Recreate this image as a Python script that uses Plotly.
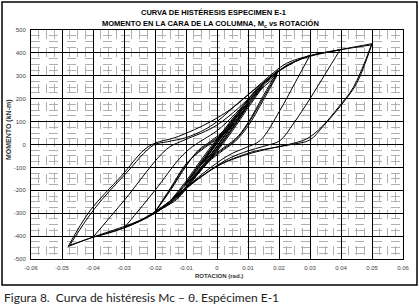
import plotly.graph_objects as go

# ---------------- data ----------------
X_TICKS = [-0.06, -0.05, -0.04, -0.03, -0.02, -0.01, 0, 0.01, 0.02, 0.03, 0.04, 0.05, 0.06]
X_TICK_TEXT = ["-0.06", "-0.05", "-0.04", "-0.03", "-0.02", "-0.01", "0", "0.01", "0.02", "0.03", "0.04", "0.05", "0.06"]
Y_TICKS = [-500, -400, -300, -200, -100, 0, 100, 200, 300, 400, 500]
Y_TICK_TEXT = ["-500", "-400", "-300", "-200", "-100", "0", "100", "200", "300", "400", "500"]

# +/-0.005 rad cycles
C005A_UP_X = [-0.005, -0.0025, 0.0, 0.0025, 0.005]
C005A_UP_Y = [-85, -55, -10, 40, 90]
C005A_DN_X = [0.005, 0.0025, 0.0, -0.0025, -0.005]
C005A_DN_Y = [90, 55, 10, -40, -85]
C005B_UP_X = [-0.005, -0.0025, 0.0, 0.0025, 0.005]
C005B_UP_Y = [-80, -50, -5, 42, 85]
C005B_DN_X = [0.005, 0.0025, 0.0, -0.0025, -0.005]
C005B_DN_Y = [85, 52, 5, -42, -80]

# +/-0.01 rad cycles
C010A_UP_X = [-0.010, -0.006, -0.002, 0.002, 0.006, 0.010]
C010A_UP_Y = [-170, -120, -55, 20, 95, 175]
C010A_DN_X = [0.010, 0.006, 0.002, -0.002, -0.006, -0.010]
C010A_DN_Y = [175, 120, 50, -25, -100, -170]
C010B_UP_X = [-0.010, -0.006, -0.002, 0.002, 0.006, 0.010]
C010B_UP_Y = [-165, -112, -45, 28, 100, 170]
C010B_DN_X = [0.010, 0.006, 0.002, -0.002, -0.006, -0.010]
C010B_DN_Y = [170, 112, 40, -30, -105, -165]
C010C_UP_X = [-0.0105, -0.006, -0.002, 0.002, 0.006, 0.0105]
C010C_UP_Y = [-178, -125, -60, 12, 88, 182]
C010C_DN_X = [0.0105, 0.006, 0.002, -0.002, -0.006, -0.0105]
C010C_DN_Y = [182, 128, 58, -18, -92, -178]

# +/-0.015 rad cycles
C015A_UP_X = [-0.015, -0.010, -0.005, 0.0, 0.005, 0.010, 0.015]
C015A_UP_Y = [-245, -185, -110, -30, 60, 160, 255]
C015A_DN_X = [0.015, 0.010, 0.005, 0.0, -0.005, -0.010, -0.015]
C015A_DN_Y = [255, 190, 110, 25, -65, -160, -245]
C015B_UP_X = [-0.0145, -0.010, -0.005, 0.0, 0.005, 0.010, 0.0145]
C015B_UP_Y = [-238, -175, -100, -20, 70, 168, 250]
C015B_DN_X = [0.0145, 0.010, 0.005, 0.0, -0.005, -0.010, -0.0145]
C015B_DN_Y = [250, 182, 100, 15, -75, -168, -238]

# +/-0.02 rad cycles
C020A_UP_X = [-0.0205, -0.015, -0.010, -0.006, -0.002, 0.003, 0.008, 0.013, 0.0198]
C020A_UP_Y = [-305, -200, -95, -25, 15, 70, 160, 245, 325]
C020B_UP_X = [-0.0203, -0.015, -0.010, -0.006, -0.002, 0.003, 0.008, 0.013, 0.0195]
C020B_UP_Y = [-300, -195, -90, -30, 10, 60, 150, 235, 310]
C020C_UP_X = [-0.0200, -0.015, -0.010, -0.006, -0.002, 0.003, 0.008, 0.013, 0.0193]
C020C_UP_Y = [-295, -190, -85, -35, 5, 55, 140, 225, 300]
C020A_DN_X = [0.0198, 0.015, 0.010, 0.006, 0.002, -0.003, -0.008, -0.013, -0.0205]
C020A_DN_Y = [325, 215, 95, 25, -15, -70, -150, -230, -305]
C020B_DN_X = [0.0195, 0.015, 0.010, 0.006, 0.002, -0.003, -0.008, -0.013, -0.0203]
C020B_DN_Y = [310, 205, 90, 20, -20, -75, -155, -235, -300]
C020C_DN_X = [0.0193, 0.015, 0.010, 0.006, 0.002, -0.003, -0.008, -0.013, -0.0200]
C020C_DN_Y = [300, 195, 80, 15, -25, -80, -160, -240, -295]

# +/-0.03 rad cycle
C030_UP_X = [-0.0297, -0.020, -0.012, -0.008, -0.004, 0.0, 0.006, 0.012, 0.017, 0.022, 0.030]
C030_UP_Y = [-360, -200, -60, -10, 25, 60, 135, 225, 290, 340, 390]
C030_DN_X = [0.030, 0.025, 0.0203, 0.0139, 0.009, 0.004, -0.002, -0.008, -0.014, -0.020, -0.025, -0.0297]
C030_DN_Y = [390, 265, 149, 17, -15, -45, -100, -165, -235, -298, -335, -360]

# +/-0.04 rad cycle
C040_UP_X = [-0.040, -0.030, -0.0162, -0.011, -0.005, 0.0, 0.007, 0.013, 0.018, 0.023, 0.030, 0.0397]
C040_UP_Y = [-405, -245, -20, 17, 50, 85, 160, 240, 300, 350, 385, 413]
C040_DN_X = [0.0397, 0.035, 0.030, 0.0246, 0.0203, 0.015, 0.010, 0.004, -0.002, -0.008, -0.014, -0.020, -0.030, -0.040]
C040_DN_Y = [413, 310, 200, 90, 17, -8, -28, -60, -110, -170, -240, -300, -365, -405]

# +/-0.05 rad cycles
C050A_UP_X = [-0.048, -0.041, -0.031, -0.022, -0.0125, -0.0023, 0.005, 0.0117, 0.017, 0.0225, 0.030, 0.040, 0.050]
C050A_UP_Y = [-445, -290, -140, -8, 35, 98, 160, 237, 300, 355, 388, 415, 440]
C050A_DN_X = [0.050, 0.045, 0.040, 0.034, 0.030, 0.024, 0.019, 0.012, 0.0085, 0.002, -0.004, -0.0098, -0.015, -0.0205, -0.025, -0.0297, -0.035, -0.040, -0.048]
C050A_DN_Y = [440, 266, 171, 76, 20, 0, -12, -30, -45, -80, -130, -185, -245, -300, -335, -362, -385, -405, -445]
C050B_UP_X = [-0.0475, -0.0395, -0.0295, -0.0205, -0.016, -0.010, -0.004, 0.0, 0.008, 0.015, 0.020, 0.025, 0.030, 0.040, 0.0498]
C050B_UP_Y = [-440, -280, -128, -3, 12, 30, 65, 100, 195, 270, 320, 360, 388, 414, 435]
C050B_DN_X = [0.0498, 0.044, 0.039, 0.034, 0.029, 0.023, 0.018, 0.011, 0.005, 0.0, -0.006, -0.012, -0.018, -0.024, -0.030, -0.038, -0.0475]
C050B_DN_Y = [435, 250, 160, 80, 25, 0, -15, -38, -65, -95, -150, -215, -275, -325, -358, -395, -440]

BRANCHES = [
    (C005A_UP_X, C005A_UP_Y), (C005A_DN_X, C005A_DN_Y),
    (C005B_UP_X, C005B_UP_Y), (C005B_DN_X, C005B_DN_Y),
    (C010A_UP_X, C010A_UP_Y), (C010A_DN_X, C010A_DN_Y),
    (C010B_UP_X, C010B_UP_Y), (C010B_DN_X, C010B_DN_Y),
    (C010C_UP_X, C010C_UP_Y), (C010C_DN_X, C010C_DN_Y),
    (C015A_UP_X, C015A_UP_Y), (C015A_DN_X, C015A_DN_Y),
    (C015B_UP_X, C015B_UP_Y), (C015B_DN_X, C015B_DN_Y),
    (C020A_UP_X, C020A_UP_Y), (C020A_DN_X, C020A_DN_Y),
    (C020B_UP_X, C020B_UP_Y), (C020B_DN_X, C020B_DN_Y),
    (C020C_UP_X, C020C_UP_Y), (C020C_DN_X, C020C_DN_Y),
    (C030_UP_X, C030_UP_Y), (C030_DN_X, C030_DN_Y),
    (C040_UP_X, C040_UP_Y), (C040_DN_X, C040_DN_Y),
    (C050A_UP_X, C050A_UP_Y), (C050A_DN_X, C050A_DN_Y),
    (C050B_UP_X, C050B_UP_Y), (C050B_DN_X, C050B_DN_Y),
]

# ---------------- figure ----------------
W, H = 419, 307
L, R, T, B = 31, 16, 30, 48
PW, PH = W - L - R, H - T - B


def px_x(px):
    return (px - L) / PW


def px_y(py):
    return (H - B - py) / PH


fig = go.Figure()
for bx, by in BRANCHES:
    fig.add_trace(go.Scatter(
        x=bx, y=by, mode="lines",
        line=dict(color="black", width=1, shape="spline", smoothing=1.0),
        hoverinfo="skip", showlegend=False,
    ))

tick_font = dict(family="Liberation Sans, Arial", size=6, color="#444")
fig.update_xaxes(
    range=[-0.06, 0.06], tickvals=X_TICKS, ticktext=X_TICK_TEXT,
    showgrid=True, gridcolor="black", gridwidth=1, zeroline=False,
    showline=True, linecolor="black", linewidth=1, mirror=True,
    ticks="", tickfont=tick_font, ticklabelstandoff=3, automargin=False,
    minor=dict(dtick=0.0025, showgrid=True, gridcolor="#b0b0b0", gridwidth=1, griddash="dash"),
)
fig.update_yaxes(
    range=[-500, 500], tickvals=Y_TICKS, ticktext=Y_TICK_TEXT,
    showgrid=True, gridcolor="black", gridwidth=1, zeroline=False,
    showline=True, linecolor="black", linewidth=1, mirror=True,
    ticks="", tickfont=tick_font, ticklabelstandoff=3, automargin=False,
    minor=dict(dtick=25, showgrid=True, gridcolor="#b0b0b0", gridwidth=1, griddash="dash"),
)

title_font = dict(family="Liberation Sans, Arial", size=7.5, color="black")
annotations = [
    dict(text="<b>CURVA DE HISTÉRESIS ESPECIMEN E-1</b>", x=px_x(213), y=px_y(13),
         xanchor="center", yanchor="middle", font=title_font),
    dict(text="<b>MOMENTO EN LA CARA DE LA COLUMNA, M<sub>c</sub> vs ROTACIÓN</b>", x=px_x(210), y=px_y(24),
         xanchor="center", yanchor="middle", font=title_font),
    dict(text="<b>ROTACION (rad.)</b>", x=px_x(219), y=px_y(276),
         xanchor="center", yanchor="middle", font=dict(family="Liberation Sans, Arial", size=6, color="#333")),
    dict(text="<b>MOMENTO (kN-m)</b>", x=px_x(9), y=px_y(130), textangle=-90,
         xanchor="center", yanchor="middle", font=dict(family="Liberation Sans, Arial", size=7, color="#333")),
    dict(text="Figura 8.  Curva de histéresis Mc – θ. Espécimen E-1", x=px_x(2), y=px_y(297),
         xanchor="left", yanchor="middle", font=dict(family="Lato, Noto Sans", size=12, color="#222")),
]
for a in annotations:
    a.update(xref="paper", yref="paper", showarrow=False)

fig.update_layout(
    width=W, height=H, margin=dict(l=L, r=R, t=T, b=B, autoexpand=False),
    paper_bgcolor="white", plot_bgcolor="white",
    annotations=annotations,
    shapes=[dict(type="rect", xref="paper", yref="paper",
                 x0=px_x(2), x1=px_x(417), y0=px_y(285), y1=px_y(2),
                 line=dict(color="black", width=1.5))],
)

fig.write_html("out.html", config={"displayModeBar": False},
               post_script="document.body.style.margin='0';document.body.style.padding='0';document.documentElement.style.overflow='hidden';")
